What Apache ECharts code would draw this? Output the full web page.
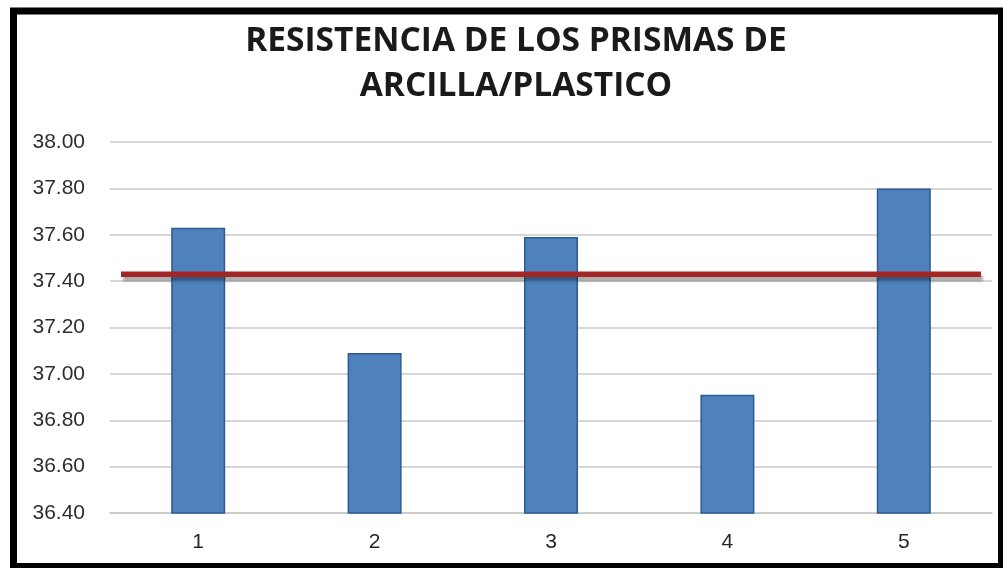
<!DOCTYPE html>
<html>
<head>
<meta charset="utf-8">
<title>Resistencia de los prismas de arcilla/plástico</title>
<script src="https://cdn.jsdelivr.net/npm/echarts@6/dist/echarts.min.js"></script>
<style>
  html, body { margin: 0; padding: 0; background: #ffffff; }
  #chart { width: 1003px; height: 568px; }
</style>
</head>
<body>
<div id="chart"></div>
<script>
// Prism specimens on the x axis
const categories = ['1', '2', '3', '4', '5'];
// Compressive strength of each prism
const resistance = [37.63, 37.09, 37.59, 36.91, 37.80];
// Reference level drawn across the chart
const referenceLevel = 37.43;
// Value axis range and step
const yMin = 36.4;
const yMax = 38.0;
const yStep = 0.2;

const chart = echarts.init(document.getElementById('chart'), null, { renderer: 'canvas' });

const option = {
  backgroundColor: '#ffffff',
  animation: false,
  title: {
    text: 'RESISTENCIA DE LOS PRISMAS DE\nARCILLA/PLASTICO',
    left: 511,
    top: 14,
    textAlign: 'center',
    textStyle: {
      fontFamily: 'Open Sans',
      fontWeight: 'bold',
      fontSize: 33.5,
      lineHeight: 45,
      color: '#1a1a1a'
    }
  },
  grid: {
    left: 110,
    right: 11,
    top: 142,
    bottom: 55,
    containLabel: false
  },
  xAxis: [
    {
      type: 'category',
      data: categories,
      axisLine: { show: true, lineStyle: { color: '#c8c8c8', width: 1.5 } },
      axisTick: { show: false },
      axisLabel: {
        color: '#262626',
        fontFamily: 'Liberation Sans',
        fontSize: 21,
        margin: 19
      }
    },
    {
      type: 'value',
      min: 0,
      max: 1,
      show: false
    }
  ],
  yAxis: {
    type: 'value',
    min: yMin,
    max: yMax,
    interval: yStep,
    axisLine: { show: false },
    axisTick: { show: false },
    splitLine: { lineStyle: { color: '#c8c8c8', width: 1.5 } },
    axisLabel: {
      color: '#2e2e2e',
      fontFamily: 'Liberation Sans',
      fontSize: 21,
      margin: 25,
      formatter: v => v.toFixed(2)
    }
  },
  series: [
    {
      type: 'bar',
      data: resistance,
      barWidth: 54,
      z: 2,
      itemStyle: {
        color: '#4f81bd',
        borderColor: '#2d5b8f',
        borderWidth: 1.5
      }
    },
    {
      type: 'line',
      xAxisIndex: 1,
      data: [[0.0125, referenceLevel], [0.9875, referenceLevel]],
      symbol: 'none',
      z: 3,
      lineStyle: {
        color: '#a32626',
        width: 5.5,
        cap: 'butt',
        shadowColor: 'rgba(0,0,0,0.35)',
        shadowBlur: 3,
        shadowOffsetX: 2,
        shadowOffsetY: 4
      }
    }
  ],
  graphic: [
    {
      type: 'rect',
      silent: true,
      z: 100,
      shape: { x: 13.5, y: 11, width: 988, height: 555.5 },
      style: { fill: null, stroke: '#000000', lineWidth: 7 }
    }
  ]
};

chart.setOption(option);
</script>
</body>
</html>
